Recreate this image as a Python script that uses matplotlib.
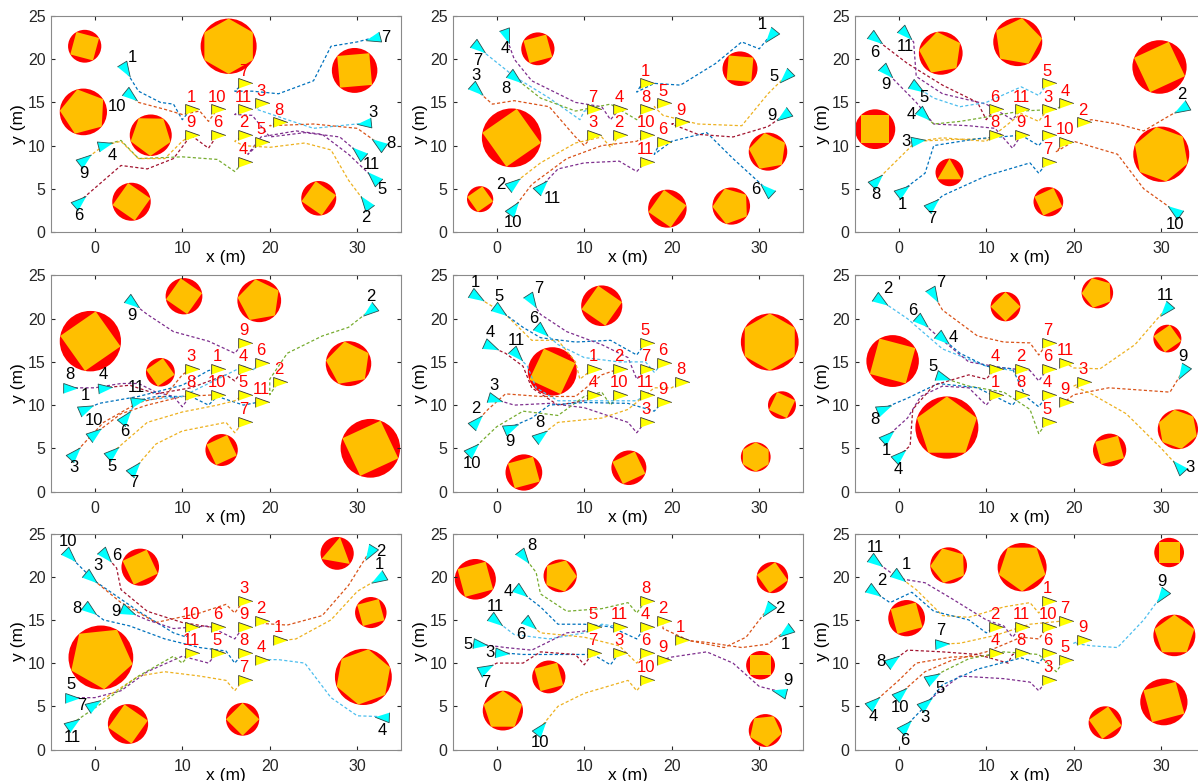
import numpy as np
import matplotlib.pyplot as plt
from matplotlib.patches import Circle, RegularPolygon

plt.rcParams['font.family'] = ['Liberation Sans', 'DejaVu Sans']

# MATLAB-like line colours, addressed by one-letter codes
PALETTE = {'B': '#0072BD', 'O': '#D95319', 'Y': '#EDB120', 'P': '#7E2F8E',
           'G': '#77AC30', 'L': '#4DBEEE', 'R': '#A2142F'}

# ---------------- obstacles: (cx, cy, r, polygon sides, polygon rotation deg)
OBS_1 = [(-1.15, 21.5, 1.9, 4, 30), (-1.3, 13.9, 2.7, 5, 105), (6.4, 11.2, 2.4, 5, 125),
         (4.2, 3.5, 2.2, 4, 100), (15.3, 21.5, 3.2, 6, 90), (29.7, 18.7, 2.6, 4, 140),
         (25.6, 3.9, 2.0, 4, 100)]
OBS_2 = [(4.7, 21.2, 1.9, 4, 60), (1.7, 10.9, 3.4, 4, 80), (-1.9, 3.8, 1.5, 4, 80),
         (27.8, 18.9, 2.0, 4, 40), (31.0, 9.3, 2.2, 5, 100), (19.5, 2.7, 2.2, 4, 100),
         (26.8, 3.0, 2.15, 5, 110)]
OBS_3 = [(4.8, 20.7, 2.5, 5, 100), (13.6, 22.0, 2.8, 5, 80), (29.8, 19.1, 3.1, 4, 70),
         (-2.7, 11.9, 2.3, 4, 45), (5.8, 6.9, 1.6, 3, 90), (17.1, 3.5, 1.7, 4, 70),
         (30.0, 9.0, 3.2, 6, 100)]
OBS_4 = [(-0.5, 17.4, 3.5, 4, 80), (7.5, 13.8, 1.65, 4, 80), (10.2, 22.6, 2.1, 4, 100),
         (18.8, 22.1, 2.5, 5, 100), (29.0, 14.8, 2.6, 5, 100), (14.5, 4.8, 1.85, 4, 70),
         (31.5, 5.0, 3.4, 4, 70)]
OBS_5 = [(12.0, 21.5, 2.35, 4, 100), (6.35, 13.9, 2.8, 4, 110), (31.2, 17.3, 3.3, 6, 90),
         (32.6, 10.0, 1.6, 4, 110), (29.6, 4.0, 1.7, 6, 90), (3.1, 2.2, 2.1, 4, 60),
         (15.1, 2.75, 2.0, 4, 70)]
OBS_6 = [(-0.7, 15.1, 3.0, 4, 120), (5.5, 7.4, 3.6, 5, 90), (12.2, 21.4, 1.7, 4, 90),
         (22.7, 23.0, 1.8, 5, 110), (24.1, 4.8, 1.9, 4, 60), (30.7, 17.7, 1.6, 4, 80),
         (31.9, 7.2, 2.3, 6, 100)]
OBS_7 = [(5.2, 21.1, 2.15, 4, 70), (27.7, 22.7, 1.9, 3, 80), (0.7, 10.65, 3.7, 5, 60),
         (31.55, 15.85, 1.8, 4, 60), (30.7, 8.4, 3.25, 6, 80), (3.8, 2.95, 2.3, 4, 100),
         (16.9, 3.5, 1.9, 4, 90)]
OBS_8 = [(-2.45, 19.7, 2.35, 4, 60), (7.25, 20.1, 1.9, 5, 70), (0.7, 4.5, 2.3, 5, 90),
         (5.95, 8.4, 1.9, 4, 60), (31.5, 19.9, 1.8, 4, 80), (30.15, 9.75, 1.65, 4, 45),
         (30.7, 2.2, 1.9, 5, 60)]
OBS_9 = [(0.9, 15.2, 2.1, 4, 60), (5.7, 21.3, 2.1, 5, 110), (14.1, 21.1, 2.8, 5, 270),
         (30.9, 22.8, 1.7, 4, 45), (31.5, 13.2, 2.4, 5, 90), (30.3, 5.5, 2.7, 4, 60),
         (23.6, 3.1, 1.9, 4, 80)]

# ---------------- robots: ids, trajectories (start -> goal), colour codes, start-label side
ID_1 = [1, 10, 7, 3, 8, 11, 5, 2, 4, 9, 6]
PATH_1 = [
    [(3.4, 18.9), (5, 16.3), (7.5, 15), (9, 14.8), (10, 13), (11, 14.2)],
    [(4.0, 15.8), (5, 15), (8, 14.2), (10, 13.6), (12, 14), (13, 12.8), (14, 14.2)],
    [(31.9, 22.5), (30, 22), (27, 21.5), (25, 17.5), (21, 16), (18, 16.3), (16, 16.3), (17, 17.2)],
    [(30.9, 12.6), (28, 12.3), (25, 12), (22, 13), (18.5, 14.2), (19, 14.9)],
    [(32.5, 10.2), (30, 12), (25, 12.5), (20, 12.3), (21, 12.7)],
    [(30.2, 9.1), (28, 11), (24, 11.5), (20, 11), (18, 13.5), (16, 13.6), (17, 14.2)],
    [(31.9, 6.2), (29, 9), (26, 11.3), (23, 11.7), (19, 11), (17.5, 9), (19, 10.4)],
    [(31, 3.3), (29, 6), (27, 9.5), (24, 10.3), (20, 9.8), (17, 10), (16, 10.5), (17, 11.2)],
    [(1.1, 10.1), (3, 10.6), (5, 8.5), (10, 8.7), (14, 8.4), (16, 7), (17, 8.1)],
    [(-1.2, 8.3), (1, 10), (3, 10.5), (5, 8.5), (8, 8.5), (10, 10.5), (11, 11.2)],
    [(-1.8, 3.5), (3, 7.7), (6, 7.3), (9, 8.5), (11, 11.2), (13, 9.7), (14, 11.2)],
]
COL_1 = 'BOBLOPPYGYR'
SIDE_1 = ['ne', 'sw', 'e', 'ne', 'e', 'se', 'se', 's', 'se', 's', 's']

ID_2 = [1, 4, 7, 8, 3, 2, 10, 11, 6, 9, 5]
PATH_2 = [
    [(31.3, 22.8), (30, 21.2), (28, 22), (25, 19.5), (21, 17), (18, 17.2), (16, 16.2), (16.5, 17), (17, 17.2)],
    [(1, 22.8), (2, 20), (4, 17.5), (9, 15), (12, 14.5), (13, 13), (14, 14.2)],
    [(-2.2, 21.4), (2, 18), (6, 15.5), (9.5, 13), (10, 14), (11, 14.2)],
    [(2, 17.9), (5, 15.5), (9, 14), (13, 14.8), (16, 13), (17, 14.2)],
    [(-2.4, 16.5), (-0.5, 14.8), (2, 15.2), (6, 14.5), (9, 11), (10, 10), (11, 11.2)],
    [(1.8, 5.5), (5, 8), (9, 10.3), (12, 11), (13, 9.8), (14, 11.2)],
    [(1.9, 2.7), (4, 5.5), (8, 8.5), (12, 10), (16, 10.5), (17, 11.2)],
    [(5, 5.2), (7, 7.3), (10, 8), (14, 8.2), (16, 7), (17, 8.1)],
    [(30.9, 4.9), (27, 8.5), (24, 11.5), (20, 10.5), (18, 9), (18.5, 10), (19, 10.4)],
    [(32.8, 13.5), (31, 12.2), (27, 11), (23, 11.3), (20, 12.5), (21, 12.7)],
    [(33, 18), (31, 16), (28, 12.3), (23, 12.5), (19, 13.5), (18, 14.5), (19, 14.9)],
]
COL_2 = 'BPLGOYOPBRY'
SIDE_2 = ['nw', 's', 's', 'sw', 'n', 'w', 's', 'se', 'w', 'w', 'w']

ID_3 = [6, 11, 5, 9, 4, 3, 8, 1, 7, 2, 10]
PATH_3 = [
    [(-2.75, 22.4), (1, 19.5), (5, 17), (9, 15), (10, 13), (11, 14.2)],
    [(0.7, 23.0), (1.7, 22), (2, 18), (5, 16), (10, 14.8), (13, 13), (14, 14.2)],
    [(2.0, 16.8), (4, 15.5), (7, 14.5), (10, 15), (14, 16.8), (16, 15.8), (17, 17.2)],
    [(-1.5, 18.6), (2, 15), (4, 12.5), (8, 12.3), (11, 12), (13, 9.7), (14, 11.2)],
    [(2.8, 13.6), (4, 12.5), (7, 12.8), (10, 13.3), (14, 14), (18, 14.2), (19, 14.9)],
    [(2.1, 10.5), (5, 10.9), (10, 10.5), (14, 13.7), (16, 12.8), (17, 14.2)],
    [(-2.6, 5.9), (2, 10.5), (6, 10.7), (10, 10.8), (11, 11.2)],
    [(0.4, 4.8), (3, 6.8), (4, 10), (9, 10.8), (14, 11.2), (16, 10), (17, 11.2)],
    [(3.8, 3.1), (5, 4.2), (10, 6.5), (15, 8), (16, 6.8), (17, 8.1)],
    [(32.4, 14.3), (30.5, 13.2), (28, 11.7), (25, 12.5), (22, 13), (21, 12.7)],
    [(31.6, 2.4), (28, 5), (25, 9), (20, 10.5), (18, 9.3), (19, 10.4)],
]
COL_3 = 'RPLPGYYBBOO'
SIDE_3 = ['s', 's', 'se', 's', 'w', 'w', 's', 's', 's', 'n', 's']

ID_4 = [9, 2, 8, 4, 1, 11, 10, 6, 3, 5, 7]
PATH_4 = [
    [(4.2, 21.9), (6, 20.5), (9, 18.5), (13, 17.4), (16, 16), (17, 17.2)],
    [(31.5, 21.0), (29, 19), (26, 18), (22, 16), (20, 13), (20, 11.2), (21, 12.7)],
    [(-2.9, 12.0), (0, 12), (3, 12.5), (5, 12.5), (7, 11.5), (9, 11), (10, 9.8), (11, 11.2)],
    [(1.0, 12.0), (4, 12.3), (7, 11.3), (11, 12), (15, 13.5), (16, 12.8), (17, 14.2)],
    [(-1.1, 9.5), (0.5, 10.2), (5, 11), (10, 12.3), (13, 14), (14, 14.2)],
    [(4.8, 10.5), (7, 11), (11, 11), (13, 10), (14, 11), (17, 10), (19, 10.4)],
    [(-0.1, 6.6), (3, 9), (6, 10), (10, 11), (14, 11.2)],
    [(3.4, 8.5), (5, 10.5), (10, 11), (14, 13), (17, 14.5), (18, 14), (19, 14.9)],
    [(-2.4, 4.3), (1, 8), (5, 10.3), (8, 11), (10, 13.5), (11, 14.2)],
    [(2.0, 4.5), (6, 8), (10, 9.2), (14, 10), (16, 10.5), (17, 11.2)],
    [(4.5, 2.6), (7, 5.5), (10, 7), (15, 8), (16, 6.8), (17, 8.1)],
]
COL_4 = 'PGPRBBOLOYY'
SIDE_4 = ['s', 'n', 'n', 'n', 'n', 'n', 'n', 's', 's', 's', 's']

ID_5 = [1, 5, 7, 6, 4, 3, 11, 2, 10, 9, 8]
PATH_5 = [
    [(-2.4, 22.6), (1, 20.5), (4, 17.5), (7, 17.5), (9, 15), (9.5, 13), (11, 14.2)],
    [(0.3, 21.0), (3, 19), (5, 17.8), (9, 17.3), (13, 17.5), (16, 15.8), (17, 17.2)],
    [(3.9, 22.2), (5, 20.5), (8, 18.5), (12, 17), (15, 15.5), (16, 13), (17, 14.2)],
    [(5.1, 18.7), (7, 17), (10, 15.5), (14, 15), (17, 15), (18, 13.8), (19, 14.9)],
    [(-0.8, 16.8), (1, 16), (3, 14.5), (4, 12), (7, 10), (10, 10.5), (11, 11.2)],
    [(-0.3, 10.7), (2, 10), (6, 10.2), (10, 9.7), (15, 8), (16, 6.8), (17, 8.1)],
    [(2.2, 15.9), (3.5, 14.5), (4.5, 12), (7, 10.5), (11, 10.5), (16, 10.5), (17, 11.2)],
    [(-2.4, 8.0), (-1, 9.5), (1, 11.3), (5, 11), (9, 11), (12, 13.5), (14, 14.2)],
    [(-2.8, 4.8), (0, 7.5), (3, 9.3), (7, 8.8), (10, 11), (12, 11.5), (13, 10), (14, 11.2)],
    [(1.5, 7.4), (4, 8.5), (6, 10), (10, 10.3), (15, 10.2), (18, 9.3), (19, 10.4)],
    [(4.9, 6.4), (7, 8), (12, 8.5), (15, 9.5), (18, 12), (20, 12), (21, 12.7)],
]
COL_5 = 'YBPLRPLOGBY'
SIDE_5 = ['n', 'n', 'ne', 'nw', 'n', 'n', 'n', 'n', 's', 's', 'n']

ID_6 = [2, 7, 6, 4, 5, 8, 1, 4, 11, 9, 3]
PATH_6 = [
    [(-2.2, 22.2), (1, 20), (5, 16.5), (10, 14.5), (13, 14), (14, 14.2)],
    [(3.9, 22.9), (5, 21), (9, 18), (12, 17.3), (15, 17.2), (16, 15.8), (17, 17.2)],
    [(2.5, 19.7), (5, 17.5), (8, 15), (12, 14.3), (15, 14), (16, 12.8), (17, 14.2)],
    [(4.9, 17.8), (7, 16), (10, 14.5), (13, 14.2), (14.5, 11), (16, 9.8), (17, 11.2)],
    [(4.9, 13.2), (8, 12.2), (12, 11.5), (15, 9.5), (16, 6.7), (17, 8.1)],
    [(-1.8, 9.6), (1, 10.8), (4.5, 12.5), (9, 12), (13, 10), (14, 11.2)],
    [(-1.4, 6.3), (1, 8.5), (2.5, 11), (5, 12.2), (8, 12), (10, 10), (11, 11.2)],
    [(0.0, 4.1), (1.3, 5.3), (1.6, 9.5), (4, 12.3), (8, 13.5), (10, 13), (11, 14.2)],
    [(30.5, 21.1), (27, 17), (23, 14.2), (20, 14.3), (19, 14.9)],
    [(32.5, 14.0), (31, 11.5), (24, 12), (20, 11.2), (19, 10.4)],
    [(32.0, 2.8), (30, 5), (26, 9), (22, 11.3), (20, 12.2), (21, 12.7)],
]
COL_6 = 'LOPBGBPRYOY'
SIDE_6 = ['ne', 'ne', 'nw', 'e', 'nw', 'sw', 's', 's', 'n', 'n', 'e']

ID_7 = [10, 3, 6, 9, 8, 5, 7, 11, 2, 1, 4]
PATH_7 = [
    [(-3.0, 22.5), (0, 19.5), (5, 16), (9, 13.5), (10.5, 13), (11, 14.2)],
    [(-0.6, 20.0), (3, 17), (7, 14.7), (12, 15.8), (15, 16.8), (16, 15.8), (17, 17.2)],
    [(1.2, 22.5), (2.5, 21), (3, 18.5), (6, 16), (10, 14.7), (13, 14.2), (14, 14.2)],
    [(3.7, 16.0), (6, 15), (9, 14), (13, 14.3), (16, 12.8), (17, 14.2)],
    [(-0.7, 16.3), (1, 15), (4, 14.3), (8, 12.8), (12, 11.8), (15, 11.4), (16, 10), (17, 11.2)],
    [(-2.7, 6.0), (0, 6), (3, 6.8), (6, 9), (10, 10.8), (13, 10), (14, 11.2)],
    [(-0.15, 5.1), (2, 6.5), (5, 8.5), (8, 9), (12, 8.5), (15, 8), (16, 6.8), (17, 8.1)],
    [(-2.6, 3.0), (1, 5.5), (5, 8.5), (9, 10.8), (10, 10), (11, 11.2)],
    [(31.4, 22.9), (29, 19), (26, 15.5), (22, 14.4), (19, 14.6), (19, 14.9)],
    [(32.5, 19.8), (30, 18.3), (27, 15), (23, 12.8), (20.5, 12.5), (21, 12.7)],
    [(32.9, 3.8), (30, 3.9), (27, 6), (24, 10), (21, 10.4), (19, 10.4)],
]
COL_7 = 'BORPBPYGOYL'
SIDE_7 = ['n', 'ne', 'e', 'w', 'w', 'n', 'w', 's', 'e', 'n', 's']

ID_8 = [8, 4, 11, 6, 5, 3, 7, 10, 2, 1, 9]
PATH_8 = [
    [(3.05, 22.4), (4.5, 20.5), (5, 18), (8, 16), (12, 16.3), (15, 17), (16, 15.8), (17, 17.2)],
    [(2.7, 18.3), (5, 16.5), (7, 14.5), (10, 14.5), (13, 14.2), (16, 12.8), (17, 14.2)],
    [(-0.2, 15.0), (2, 13.3), (6, 12.8), (10, 13.5), (12, 14.5), (14, 14.2)],
    [(3.7, 14.6), (5, 13.5), (10, 13), (14, 12), (16, 10), (17, 11.2)],
    [(-2.0, 12.2), (1, 11.8), (4, 11.5), (8, 13.5), (10, 13.7), (11, 14.2)],
    [(0.5, 11.2), (3, 11), (7, 11), (11, 11), (13, 9.8), (14, 11.2)],
    [(-1.3, 9.3), (0, 10), (3, 10), (5, 11.3), (9, 11), (10, 9.8), (11, 11.2)],
    [(4.9, 2.4), (7, 5), (10, 6.5), (15, 8), (16, 6.8), (17, 8.1)],
    [(31.0, 16.3), (28.5, 13), (26, 11.8), (22, 12.6), (19, 14), (19, 14.9)],
    [(33.0, 13.7), (31, 12.2), (28, 11.8), (24, 12.4), (21, 12.7)],
    [(32.4, 6.7), (30, 7.3), (27, 10), (24, 11.3), (20, 10.7), (19, 10.4)],
]
COL_8 = 'GBLYPBRYOOP'
SIDE_8 = ['ne', 'w', 'n', 'sw', 'w', 'w', 's', 's', 'e', 's', 'ne']

ID_9 = [11, 1, 2, 7, 10, 8, 4, 5, 3, 6, 9]
PATH_9 = [
    [(-2.7, 21.8), (0, 19.8), (3, 19.3), (6, 17.5), (10, 15), (12, 14.3), (13, 13), (14, 14.2)],
    [(-0.1, 20.1), (2, 18.5), (5, 15.5), (8, 15.3), (12, 16.5), (15, 17), (16, 15.8), (17, 17.2)],
    [(-2.9, 18.3), (-1, 17), (1.5, 18.2), (4, 16), (8, 15), (10, 13.5), (11, 14.2)],
    [(4.8, 12.2), (7, 12.3), (11, 13.2), (15, 14.5), (18, 14.8), (19, 14.9)],
    [(0.1, 6.4), (3, 9), (6, 10.3), (10, 11.3), (14, 13), (16, 12.8), (17, 14.2)],
    [(-0.75, 10.2), (1, 11.5), (5, 11.3), (9, 11), (12.5, 10), (13, 11), (14, 11.2)],
    [(-2.9, 5.4), (0, 8), (2, 10), (6, 10.7), (10, 10.8), (11, 11.2)],
    [(3.8, 8.3), (5, 9), (8, 10.5), (12, 11.3), (16, 11), (18, 9), (19, 10.4)],
    [(3.0, 5.3), (5, 7), (7, 8.5), (12, 8.2), (15, 7.8), (16, 6.8), (17, 8.1)],
    [(0.7, 2.6), (3, 5), (5, 7.5), (9, 9.3), (14, 10.6), (16, 10), (17, 11.2)],
    [(30.1, 17.9), (28, 15), (25, 11.8), (22, 12), (20, 12.3), (21, 12.7)],
]
COL_9 = 'PYBYOROGPBL'
SIDE_9 = ['n', 'ne', 'ne', 'n', 's', 'w', 's', 'se', 's', 's', 'n']

PANELS = [
    (OBS_1, ID_1, PATH_1, COL_1, SIDE_1), (OBS_2, ID_2, PATH_2, COL_2, SIDE_2),
    (OBS_3, ID_3, PATH_3, COL_3, SIDE_3), (OBS_4, ID_4, PATH_4, COL_4, SIDE_4),
    (OBS_5, ID_5, PATH_5, COL_5, SIDE_5), (OBS_6, ID_6, PATH_6, COL_6, SIDE_6),
    (OBS_7, ID_7, PATH_7, COL_7, SIDE_7), (OBS_8, ID_8, PATH_8, COL_8, SIDE_8),
    (OBS_9, ID_9, PATH_9, COL_9, SIDE_9),
]

# text placement for start labels: (dx, dy, ha, va)
SIDES = {'n': (0, 0.7, 'center', 'bottom'), 's': (0, -0.7, 'center', 'top'),
         'e': (0.8, 0, 'left', 'center'), 'w': (-0.8, 0, 'right', 'center'),
         'ne': (0.4, 0.4, 'left', 'bottom'), 'nw': (-0.4, 0.4, 'right', 'bottom'),
         'se': (0.4, -0.4, 'left', 'top'), 'sw': (-0.4, -0.4, 'right', 'top')}


def arrow_marker(theta_deg):
    th = np.radians(theta_deg)
    pts = np.array([(1.0, 0.0), (-0.7, 0.6), (-0.7, -0.6)])
    rot = np.array([[np.cos(th), -np.sin(th)], [np.sin(th), np.cos(th)]])
    return [tuple(p) for p in pts @ rot.T]


def draw_panel(ax, obstacles, ids, paths, cols, sides):
    for cx, cy, r, n, rot in obstacles:
        ax.add_patch(Circle((cx, cy), r, facecolor='#FF0000', edgecolor='none', zorder=1))
        ax.add_patch(RegularPolygon((cx, cy), n, radius=r, orientation=np.radians(rot - 90),
                                    facecolor='#FFBF00', edgecolor='none', zorder=2))

    for rid, path, c, side in zip(ids, paths, cols, sides):
        xy = np.array(path)
        ax.plot(xy[:, 0], xy[:, 1], color=PALETTE[c], lw=0.9, ls=(0, (2.5, 1.8)), zorder=3)

        # start pose (cyan), heading taken from the first leg
        head = np.degrees(np.arctan2(xy[1, 1] - xy[0, 1], xy[1, 0] - xy[0, 0]))
        ax.plot(xy[0, 0], xy[0, 1], marker=arrow_marker(head), ms=12, mfc='#00FFFF',
                mec='#2b4f4f', mew=0.6, zorder=5)
        dx, dy, ha, va = SIDES[side]
        ax.text(xy[0, 0] + dx, xy[0, 1] + dy, str(rid), fontsize=12, color='black',
                ha=ha, va=va, zorder=6)

        # goal pose (yellow)
        ax.plot(xy[-1, 0], xy[-1, 1], marker=arrow_marker(0), ms=12, mfc='#FFFF00',
                mec='#333333', mew=0.6, zorder=5)
        ax.text(xy[-1, 0], xy[-1, 1] + 0.55, str(rid), fontsize=12, color='#FF0000',
                ha='center', va='bottom', zorder=6)


fig = plt.figure(figsize=(11.98, 7.81), dpi=100)
W, H = 1198.0, 781.0
col_left = [51, 453, 855]
row_top = [16, 275.5, 533.5]
aw, ah = 350, 216

for k, (obs, ids, paths, cols, sides) in enumerate(PANELS):
    r, c = divmod(k, 3)
    ax = fig.add_axes([col_left[c] / W, 1 - (row_top[r] + ah) / H, aw / W, ah / H])
    draw_panel(ax, obs, ids, paths, cols, sides)
    ax.set_xlim(-5, 35)
    ax.set_ylim(0, 25)
    ax.set_xticks([0, 10, 20, 30])
    ax.set_yticks([0, 5, 10, 15, 20, 25])
    ax.tick_params(direction='in', length=3, top=True, right=True, labelsize=11.5,
                   colors='#262626')
    ax.tick_params(axis='x', pad=6.5)
    ax.tick_params(axis='y', pad=4)
    for sp in ax.spines.values():
        sp.set_color('#8a8a8a')
        sp.set_linewidth(0.8)
    ax.set_xlabel('x (m)', fontsize=12.5, labelpad=-4)
    ax.set_ylabel('y (m)', fontsize=12.5, labelpad=1)

fig.savefig('out.png', dpi=100)
